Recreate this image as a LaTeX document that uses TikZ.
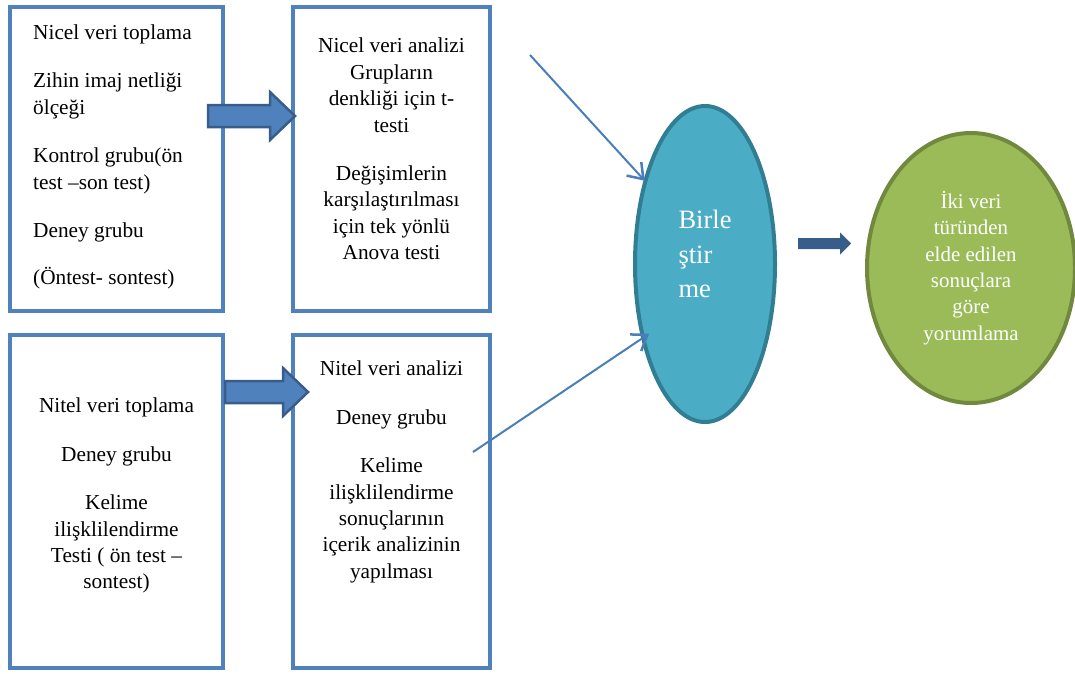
\documentclass[tikz,border=0pt]{standalone}
\usepackage{fontspec}
\setmainfont{Liberation Serif}
\usetikzlibrary{arrows.meta}
\usetikzlibrary{positioning}
\usetikzlibrary{shapes.geometric}

\definecolor{boxblue}{RGB}{79,129,189}
\definecolor{arrowedge}{RGB}{56,93,138}
\definecolor{mergefill}{RGB}{75,172,198}
\definecolor{mergeedge}{RGB}{49,125,146}
\definecolor{resultfill}{RGB}{155,187,89}
\definecolor{resultedge}{RGB}{113,137,63}
\definecolor{linkblue}{RGB}{74,126,187}

\tikzset{
  stagebox/.style={draw=boxblue, line width=4pt, minimum width=213pt, inner sep=0pt, outer sep=0pt},
  boxtext/.style={inner sep=0pt, font=\fontsize{21.3}{26.4}\selectfont},
  fatarrow/.style={draw=arrowedge, fill=boxblue, line width=2.5pt, line join=miter},
  link/.style={draw=linkblue, line width=2pt, -{Straight Barb[length=14pt,width=20pt,line width=2.5pt]}},
}

\begin{document}
\begin{tikzpicture}[x=1pt,y=-1pt]
	\useasboundingbox (0,0) rectangle (1075,673);

	\node[stagebox, minimum height=304pt] (NicelToplama) at (116.5,159) {};
	\node[stagebox, minimum width=197pt, minimum height=304pt] (NicelAnaliz) [right=70pt of NicelToplama] {};
	\node[stagebox, minimum height=333pt] (NitelToplama) [below=24pt of NicelToplama] {};
	\node[stagebox, minimum width=197pt, minimum height=333pt] (NitelAnaliz) [right=70pt of NitelToplama] {};

	\node[boxtext, align=left] (NicelToplamaText) [below right=17.5pt and 23pt of NicelToplama.north west]
		{Nicel veri toplama\\[22pt] Zihin imaj netliği\\ ölçeği\\[22pt] Kontrol grubu(ön\\ test –son test)\\[22pt] Deney grubu\\[21pt] (Öntest- sontest)};
	\node[boxtext, align=center] (NicelAnalizText) [below=31pt of NicelAnaliz.north]
		{Nicel veri analizi\\ Grupların\\ denkliği için t-\\ testi\\[22pt] Değişimlerin\\ karşılaştırılması\\ için tek yönlü\\ Anova testi};
	\node[boxtext, align=center] (NitelToplamaText) [below=63pt of NitelToplama.north]
		{Nitel veri toplama\\[22pt] Deney grubu\\[22pt] Kelime\\ ilişklilendirme\\ Testi ( ön test –\\ sontest)};
	\node[boxtext, align=center] (NitelAnalizText) [below=26pt of NitelAnaliz.north]
		{Nitel veri analizi\\[22pt] Deney grubu\\[22pt] Kelime\\ ilişklilendirme\\ sonuçlarının\\ içerik analizinin\\ yapılması};

	% block arrows, drawn from their tips
	\coordinate (NicelOk) at ([shift={(2pt,43pt)}]NicelAnaliz.west);
	\coordinate (NitelOk) at ([shift={(15pt,109.5pt)}]NitelAnaliz.west);
	\draw[fatarrow] (NicelOk) -- ++(-25,-24) -- ++(0,13) -- ++(-62,0) -- ++(0,22) -- ++(62,0) -- ++(0,13) -- cycle;
	\draw[fatarrow] (NitelOk) -- ++(-25,-24) -- ++(0,13) -- ++(-58,0) -- ++(0,22) -- ++(58,0) -- ++(0,13) -- cycle;

	\node[ellipse, draw=mergeedge, fill=mergefill, line width=4pt, minimum width=140pt, minimum height=316pt, inner sep=0pt] (Birlestir) at (705,264) {};
	\node[text=white, align=left, inner sep=0pt, font=\fontsize{26.5}{34.5}\selectfont] (BirlestirText) at ([yshift=10pt]Birlestir.center) {Birle\\ ştir\\ me};

	\node[ellipse, draw=resultedge, fill=resultfill, line width=4pt, minimum width=208pt, minimum height=270pt, inner sep=0pt, text=white, align=center, font=\fontsize{20.9}{26.4}\selectfont] (Yorum) at (971,268)
		{İki veri\\ türünden\\ elde edilen\\ sonuçlara\\ göre\\ yorumlama};

	\coordinate (BirlestirOk) at ([shift={(74pt,20.5pt)}]Birlestir.east);
	\fill[arrowedge] (BirlestirOk) -- ++(-11,-11) -- ++(0,5.5) -- ++(-42,0) -- ++(0,11) -- ++(42,0) -- ++(0,5.5) -- cycle;

	\coordinate (NicelCikis) at (530,55);
	\coordinate (NitelCikis) at (473,452);
	\draw[link] (NicelCikis) -- ([shift={(1pt,-1pt)}]Birlestir.126);
	\draw[link] (NitelCikis) -- ([shift={(7pt,8pt)}]Birlestir.231);
\end{tikzpicture}
\end{document}
